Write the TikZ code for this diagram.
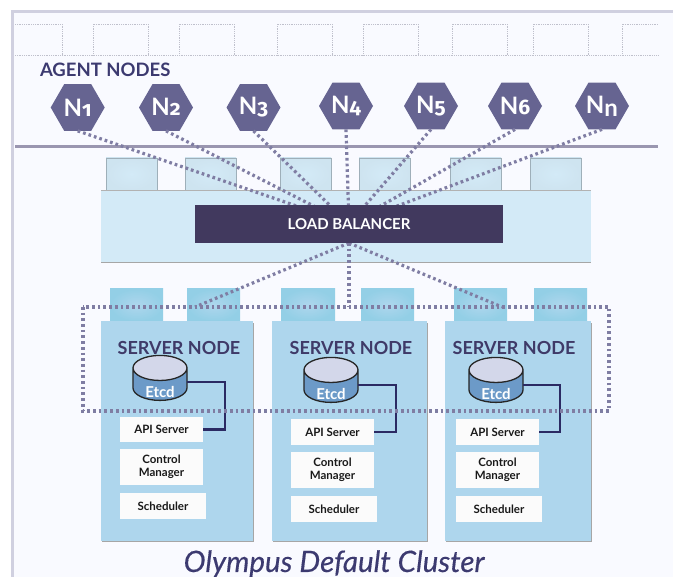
\documentclass[tikz,border=0pt]{standalone}
\usepackage{fontspec}
\setmainfont{Lato}
\newfontfamily\oldnum[Numbers=OldStyle]{Fira Sans}
\newfontfamily\titlefont[ItalicFeatures={FakeBold=0.35}]{Lato}
\usetikzlibrary{shapes.geometric,calc}
\pgfdeclarelayer{top}
\pgfsetlayers{main,top}
\definecolor{panel}{HTML}{F9FAFF}
\definecolor{frameedge}{HTML}{D0D0E0}
\definecolor{hexfill}{HTML}{666491}
\definecolor{rulecol}{HTML}{9A96B0}
\definecolor{dotcol}{HTML}{7F7DA3}
\definecolor{lbpanel}{HTML}{D3EAF7}
\definecolor{lbdark}{HTML}{41395E}
\definecolor{srvfill}{HTML}{AED6ED}
\definecolor{tabedge}{HTML}{93CFE6}
\definecolor{titlecol}{HTML}{3C3A70}
\definecolor{headcol}{HTML}{3F3A68}
\definecolor{wire}{HTML}{2B2A63}
\definecolor{cylbody}{HTML}{6C9AC8}
\definecolor{cyltop}{HTML}{D3D7EA}
\definecolor{ghost}{HTML}{BFC0CC}
\tikzset{
  x=1pt,y=-1pt,
  every node/.style={inner sep=0pt,outer sep=0pt,font=\bfseries},
  ghostbox/.style={draw=ghost,densely dotted,line width=.8pt},
  hexnode/.style={regular polygon,regular polygon sides=6,minimum size=54pt,fill=hexfill,text=white,font=\bfseries\fontsize{24}{24}\selectfont},
  dotline/.style={draw=dotcol,line width=3.2pt,dash pattern=on 2.7pt off 3pt},
  lighttab/.style={draw=black!25!lbpanel,line width=.8pt,inner color=lbpanel,outer color=lbpanel!94!gray},
  bluetab/.style={inner color=srvfill,outer color=tabedge},
  whitebox/.style={fill=white!97!gray,text=black!90,align=center,font=\bfseries\fontsize{11.5}{11.5}\selectfont},
  srvnode/.style={fill=srvfill},
  srvhead/.style={text=headcol,font=\bfseries\fontsize{18}{18}\selectfont},
  etcd/.style={cylinder,shape border rotate=90,aspect=0.85,minimum height=45pt,minimum width=54pt,cylinder uses custom fill,cylinder body fill=cylbody,cylinder end fill=cyltop,draw=black!85,line width=1.3pt,text=white,font=\bfseries\fontsize{15}{15}\selectfont},
  wireline/.style={draw=wire,line width=2.5pt}
}
\newcommand{\bx}[7]{% name style x1 y1 x2 y2 text
  \pgfmathsetmacro{\bxw}{#5-#3}\pgfmathsetmacro{\bxh}{#6-#4}
  \pgfmathsetmacro{\bxx}{(#5+#3)/2}\pgfmathsetmacro{\bxy}{(#6+#4)/2}
  \node[#2,minimum width=\bxw pt,minimum height=\bxh pt] (#1) at (\bxx,\bxy) {#7};}
\newcommand{\dg}[1]{{\oldnum\bfseries\fontsize{21}{21}\selectfont #1}}
\begin{document}
\begin{tikzpicture}
\useasboundingbox (0,0) rectangle (673,577);
\fill[white] (0,0) rectangle (673,577);
\fill[panel] (13,12) rectangle (673,577);
\fill[frameedge] (11,10) rectangle (673,13);
\fill[frameedge] (11,10) rectangle (13.5,577);
% dotted placeholders
\draw[ghostbox] (15,55.5) -- (658,55.5);
\draw[ghostbox] (15,24) -- (62,24) -- (62,55.5);
\foreach \a/\b in {93/148,179/234,277/332,363/418,452/507,533/588}
  \draw[ghostbox] (\a,55.5) -- (\a,24) -- (\b,24) -- (\b,55.5);
\draw[ghostbox] (622,55.5) -- (622,24) -- (658,24);
\node[anchor=base west,text=titlecol,font=\bfseries\fontsize{18.5}{18.5}\selectfont] (agents) at (40,77) {AGENT NODES};
\draw[rulecol,line width=3pt] (15,147) -- (658,147);
% load balancer
\bx{t1}{lighttab}{106}{158}{157}{190}{}
\bx{t2}{lighttab}{185}{158}{236}{190}{}
\bx{t3}{lighttab}{280}{158}{331}{190}{}
\bx{t4}{lighttab}{359}{158}{410}{190}{}
\bx{t5}{lighttab}{450}{158}{501}{190}{}
\bx{t6}{lighttab}{530}{158}{581}{190}{}
\bx{lbp}{fill=lbpanel}{101}{190}{591}{263}{}
\draw[black!30,line width=.8pt] (lbp.north west) -- (lbp.north east);
\draw[black!35,line width=1pt] (lbp.south west) -- (lbp.south east);
\begin{pgfonlayer}{top}
\bx{lb}{fill=lbdark,text=white,font=\bfseries\fontsize{15}{15}\selectfont}{195}{205}{503}{243}{LOAD BALANCER}
\end{pgfonlayer}
% hexagons
\node[hexnode] (n1) at (77.7,107.5) {N\dg{1}};
\node[hexnode] (n2) at (166,107.5) {\raisebox{1.5pt}{N\dg{2}}};
\node[hexnode] (n3) at (253.5,107.5) {N\dg{3}};
\node[hexnode] (n4) at (346,106) {N\dg{4}};
\node[hexnode] (n5) at (431,106) {\raisebox{1pt}{N\dg{5}}};
\node[hexnode] (n6) at (515,106) {N\dg{6}};
\node[hexnode] (nn) at (602,106) {N\raisebox{-3pt}{n}};
% server tabs and nodes
\bx{s1}{bluetab}{110}{289}{163}{321}{}
\bx{s2}{bluetab}{187}{289}{240}{321}{}
\bx{s3}{bluetab}{281}{289}{335}{321}{}
\bx{s4}{bluetab}{361}{289}{414}{321}{}
\bx{s5}{bluetab}{454}{289}{507}{321}{}
\bx{s6}{bluetab}{534}{289}{587}{321}{}
\foreach \a/\b in {101/253,272/427,445/591}
  \fill[black!35] (\a+1,323) rectangle (\b+1.3,542.3);
\bx{sa}{srvnode}{101}{321}{253}{541}{}
\bx{sb}{srvnode}{272}{321}{427}{541}{}
\bx{sc}{srvnode}{445}{321}{591}{541}{}
\node[srvhead] (ha) at (179,348) {SERVER NODE};
\node[srvhead] (hb) at (351,348) {SERVER NODE};
\node[srvhead] (hc) at (514,348) {SERVER NODE};
\node[etcd] (ca) at (160,384.5) {\raisebox{-13pt}[0pt][0pt]{Etcd}};
\node[etcd] (cb) at (331,386.5) {\raisebox{-13pt}[0pt][0pt]{Etcd}};
\node[etcd] (cc) at (496,386.5) {\raisebox{-13pt}[0pt][0pt]{Etcd}};
\bx{aa}{whitebox}{120}{417}{203}{442}{API Server}
\bx{ma}{whitebox}{120}{449}{203}{485}{Control\\[1pt]Manager}
\bx{da}{whitebox}{120}{493}{206}{519}{Scheduler}
\bx{ab}{whitebox}{291}{419}{374}{445}{API Server}
\bx{mb}{whitebox}{291}{452}{374}{488}{Control\\[1pt]Manager}
\bx{db}{whitebox}{291}{496}{377}{522}{Scheduler}
\bx{ac}{whitebox}{456}{419}{539}{445}{API Server}
\bx{mc}{whitebox}{456}{452}{539}{488}{Control\\[1pt]Manager}
\bx{dc}{whitebox}{456}{496}{542}{522}{Scheduler}
\draw[wireline] ($(ca.center)+(27,-2.5)$) -| (225,429.5) -- (aa.east |- 0,429.5);
\draw[wireline] ($(cb.center)+(27,-1.5)$) -| (396,432) -- (ab.east |- 0,432);
\draw[wireline] ($(cc.center)+(27,-1.5)$) -| (560,432) -- (ac.east |- 0,432);
% dotted connectors
\foreach \n in {n1,n2,n3,n4,n5,n6,nn}
  \draw[dotline] (\n.south) -- (lb.center);
\coordinate (rl) at (195,307);
\coordinate (rc) at (349,307);
\coordinate (rr) at (502,307);
\draw[dotline] (lb.south) -- (rl);
\draw[dotline] (lb.south) -- (rc);
\draw[dotline] (lb.south) -- (rr);
\draw[dotline] (83,307) rectangle (609,411);
\node[anchor=base,text=titlecol,font=\titlefont\itshape\fontsize{29.5}{29.5}\selectfont] (title) at (334,572) {Olympus Default Cluster};
\end{tikzpicture}
\end{document}
